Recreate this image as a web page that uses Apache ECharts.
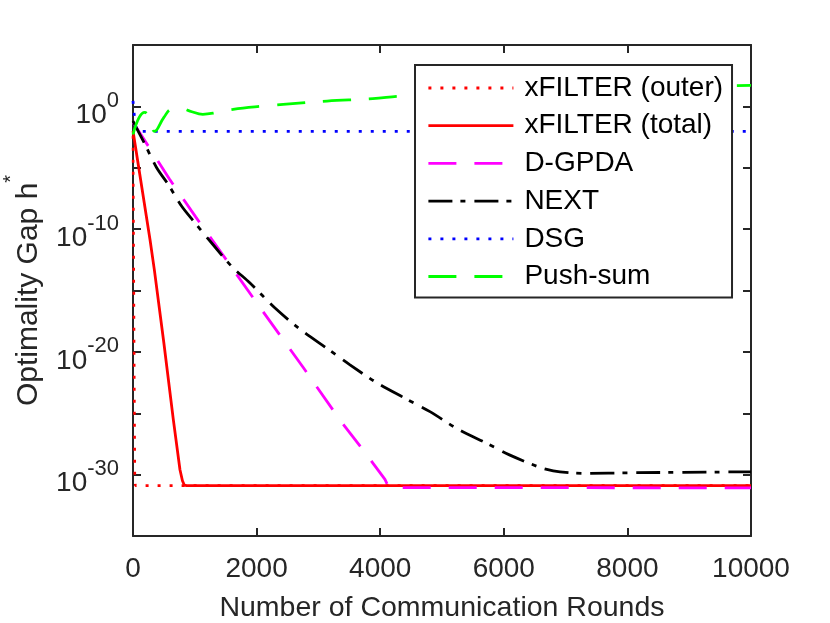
<!DOCTYPE html>
<html>
<head>
<meta charset="utf-8">
<script src="https://cdn.jsdelivr.net/npm/echarts@6/dist/echarts.min.js"></script>
<style>
html,body{margin:0;padding:0;background:#fff;}
#c{width:830px;height:623px;}
</style>
</head>
<body>
<div id="c"></div>
<script>
// values are log10 of the optimality gap
const outerX = [0, 10, 20, 30, 40, 10000];
const outerY = [-2.4, -12, -22, -30.5, -30.9, -30.9];

const totalX = [0, 30, 275, 345, 500, 652, 760, 800, 830, 870, 10000];
const totalY = [-2.0, -2.15, -10.85, -13.3, -19.3, -25.5, -29.6, -30.5, -30.85, -30.9, -30.9];

const gpdaX = [0, 345, 587, 1014, 1435, 2055, 2755, 3349, 3807, 4077, 4140, 10000];
const gpdaY = [-1.3, -4.0, -5.9, -9.0, -11.97, -16.38, -21.27, -25.55, -28.55, -30.39, -31.05, -31.08];

const nextX = [0, 194, 383, 571, 788, 1003, 1273, 1597, 1893, 2298, 2702, 3134, 3511, 3943, 4401, 4805, 5237, 5723, 6100, 6585, 6800, 7071, 7341, 8041, 10000];
const nextY = [-1.2, -3.10, -5.0, -6.37, -8.14, -9.49, -11.13, -13.04, -14.39, -16.43, -18.15, -19.70, -21.06, -22.51, -23.78, -24.87, -26.23, -27.45, -28.41, -29.41, -29.69, -29.85, -29.90, -29.85, -29.77];

const dsgX = [0, 15, 35, 60, 100, 10000];
const dsgY = [0.45, -0.4, -1.5, -1.95, -2.03, -2.03];

const pushX = [0, 100, 190, 260, 350, 500, 620, 800, 920, 1130, 1350, 1620, 2100, 2430, 3140, 3880, 4320, 5000, 6000, 7000, 8000, 9000, 10000];
const pushY = [-2.29, -0.9, -0.49, -0.9, -2.04, -0.9, -0.24, -0.2, -0.38, -0.65, -0.51, -0.24, 0.02, 0.16, 0.43, 0.63, 0.84, 1.0, 1.2, 1.36, 1.5, 1.61, 1.71];

const seriesNames = ['xFILTER (outer)', 'xFILTER (total)', 'D-GPDA', 'NEXT', 'DSG', 'Push-sum'];
const xTicks = {min: 0, max: 10000, interval: 2000};
const yTicks = {min: -35, max: 5, interval: 5};

const FONT = 'Liberation Sans, Arial, Helvetica, sans-serif';
const AX = '#262626';
const FS = 28;

function pairs(xs, ys) { return xs.map((x, i) => [x, ys[i]]); }

const chart = echarts.init(document.getElementById('c'), null, {renderer: 'canvas'});

const axisCommon = {
  axisLine: {show: true, onZero: false, lineStyle: {color: AX, width: 2}},
  axisTick: {show: true, inside: true, length: 8, lineStyle: {color: AX, width: 2}},
  splitLine: {show: false},
  minorTick: {show: false}
};

function mkSeries(name, xs, ys, color, type, width, smooth) {
  return {
    name: name, type: 'line', data: pairs(xs, ys),
    symbol: 'none', showSymbol: false, smooth: smooth || false,
    lineStyle: {color: color, width: width, type: type, cap: 'butt'},
    itemStyle: {color: color},
    emphasis: {disabled: true},
    xAxisIndex: 0, yAxisIndex: 0
  };
}

const option = {
  animation: false,
  backgroundColor: '#fff',
  grid: {left: 133, top: 45, right: 79, bottom: 87, containLabel: false, outerBoundsMode: 'none'},
  xAxis: [
    Object.assign({
      type: 'value', position: 'bottom', min: xTicks.min, max: xTicks.max, interval: xTicks.interval,
      name: 'Number of Communication Rounds', nameLocation: 'middle', nameGap: 58,
      nameTextStyle: {fontFamily: FONT, fontSize: 28.5, color: AX},
      axisLabel: {fontFamily: FONT, fontSize: FS, color: AX, margin: 19, formatter: function (v) { return String(v); }}
    }, axisCommon),
    Object.assign({
      type: 'value', position: 'top', min: xTicks.min, max: xTicks.max, interval: xTicks.interval,
      axisLabel: {show: false}
    }, axisCommon)
  ],
  yAxis: [
    Object.assign({
      type: 'value', position: 'left', min: yTicks.min, max: yTicks.max, interval: yTicks.interval,
      name: '{n|Optimality Gap h}{s|*}', nameLocation: 'middle', nameGap: 94, nameRotate: 90,
      nameTextStyle: {
        fontFamily: FONT, color: AX,
        rich: {
          n: {fontFamily: FONT, fontSize: 30, color: AX, lineHeight: 32, padding: [12, 0, 0, 0]},
          s: {fontFamily: FONT, fontSize: 20, color: AX, lineHeight: 20, padding: [0, 0, 24, 0]}
        }
      },
      axisLabel: {
        margin: 14,
        formatter: function (v) { return (Math.round(v) % 10 === 0) ? '{b|10}{e|' + Math.round(v) + '}' : ''; },
        rich: {
          b: {fontFamily: FONT, fontSize: FS, color: AX, lineHeight: 30, padding: [19, 0, 1, 0]},
          e: {fontFamily: FONT, fontSize: 22, color: AX, lineHeight: 16, padding: [11.5, 0, 22.5, 0]}
        }
      }
    }, axisCommon),
    Object.assign({
      type: 'value', position: 'right', min: yTicks.min, max: yTicks.max, interval: yTicks.interval,
      axisLabel: {show: false}
    }, axisCommon)
  ],
  legend: {
    show: true, orient: 'vertical', left: 415, top: 65,
    data: seriesNames.map(function (n) { return {name: n, itemStyle: {opacity: 0}}; }),
    itemWidth: 85, itemHeight: 30, itemGap: 7.7,
    padding: [8, 9, 6, 12],
    backgroundColor: '#fff', borderColor: AX, borderWidth: 2, borderRadius: 0,
    itemStyle: {opacity: 0},
    lineStyle: {width: 2.8},
    textStyle: {fontFamily: FONT, fontSize: FS, color: '#000', lineHeight: 30, padding: [0, 0, 0, 6]},
    selectedMode: false
  },
  series: [
    mkSeries(seriesNames[0], outerX, outerY, '#FF0000', [3, 9], 2.6),
    mkSeries(seriesNames[1], totalX, totalY, '#FF0000', 'solid', 2.8),
    mkSeries(seriesNames[2], gpdaX, gpdaY, '#FF00FF', [28, 18], 2.8),
    mkSeries(seriesNames[3], nextX, nextY, '#000000', [24, 8, 5, 9], 2.8, 0.3),
    mkSeries(seriesNames[4], dsgX, dsgY, '#0000FF', [3, 9], 2.8),
    mkSeries(seriesNames[5], pushX, pushY, '#00FF00', [28, 18], 2.8, 0.4)
  ]
};
chart.setOption(option);
</script>
</body>
</html>
